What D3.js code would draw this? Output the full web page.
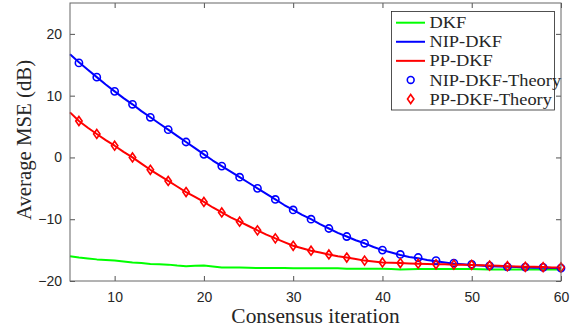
<!DOCTYPE html>
<html><head><meta charset="utf-8">
<script src="https://cdn.jsdelivr.net/npm/d3@7"></script>
<style>body{margin:0;background:#fff}svg{display:block}</style>
</head><body>
<svg id="c" width="585" height="331"></svg>
<script>
// ---- data ----
const iterations = d3.range(5, 61);            // 5..60
const theoryIterations = d3.range(6, 61, 2);   // 6,8,..,60
const dkf = [-16.0,-16.2,-16.35,-16.5,-16.6,-16.7,-16.85,-17.0,-17.1,-17.25,-17.3,-17.35,-17.5,-17.6,-17.55,-17.5,-17.65,-17.8,-17.8,-17.8,-17.85,-17.9,-17.9,-17.9,-17.9,-17.95,-17.95,-17.95,-17.95,-17.95,-17.95,-18.0,-18.0,-18.0,-18.0,-18.0,-18.05,-18.15,-18.1,-18.05,-18.05,-18.05,-18.05,-18.05,-18.05,-18.05,-18.1,-18.15,-18.15,-18.15,-18.15,-18.15,-18.15,-18.15,-18.15,-18.15];
const nipDkf = [16.7,15.4,14.2,13.0,11.8,10.7,9.6,8.6,7.5,6.5,5.5,4.5,3.5,2.5,1.5,0.5,-0.5,-1.4,-2.3,-3.2,-4.1,-5.0,-5.9,-6.8,-7.7,-8.5,-9.3,-10.0,-10.8,-11.5,-12.2,-12.8,-13.4,-13.9,-14.5,-15.0,-15.4,-15.8,-16.1,-16.3,-16.6,-16.8,-17.0,-17.2,-17.3,-17.4,-17.5,-17.6,-17.65,-17.7,-17.75,-17.8,-17.85,-17.85,-17.9,-17.9];
const ppDkf = [7.3,5.9,4.8,3.8,2.8,1.9,0.9,0.0,-1.0,-2.0,-2.9,-3.8,-4.7,-5.6,-6.4,-7.2,-8.1,-8.9,-9.7,-10.4,-11.1,-11.8,-12.5,-13.1,-13.7,-14.3,-14.7,-15.1,-15.4,-15.7,-16.0,-16.2,-16.45,-16.7,-16.85,-17.0,-17.05,-17.1,-17.15,-17.2,-17.25,-17.3,-17.3,-17.35,-17.35,-17.4,-17.45,-17.5,-17.55,-17.6,-17.65,-17.7,-17.7,-17.75,-17.8,-17.8];
const nipTheory = [15.3,13.0,10.7,8.6,6.5,4.5,2.5,0.5,-1.4,-3.2,-5.0,-6.8,-8.5,-10.0,-11.5,-12.8,-13.9,-15.0,-15.7,-16.2,-16.7,-17.1,-17.3,-17.55,-17.7,-17.75,-17.8,-17.9];
const ppTheory = [5.9,3.8,1.9,0.0,-2.0,-3.8,-5.6,-7.2,-8.9,-10.4,-11.8,-13.1,-14.3,-15.1,-15.7,-16.2,-16.7,-17.0,-17.1,-17.2,-17.3,-17.35,-17.4,-17.5,-17.6,-17.7,-17.75,-17.8];
const xTicks = [10,20,30,40,50,60];
const yTicks = [-20,-10,0,10,20];
const legendLabels = ["DKF","NIP-DKF","PP-DKF","NIP-DKF-Theory","PP-DKF-Theory"];

// ---- layout ----
const svg = d3.select("#c");
const L = 70, R = 561, T = 3, B = 281;
const x = d3.scaleLinear().domain([5, 60]).range([L, R]);
const y = d3.scaleLinear().domain([-20, 25]).range([B, T]);
const axisCol = "#262626";
const tickFont = "'Liberation Sans', Arial, sans-serif";
const serif = "'Liberation Serif', 'Times New Roman', serif";

// stretch serif text slightly to mimic Computer Modern widths
function widen(sel, k) {
  sel.each(function(){
    const w = this.getComputedTextLength();
    d3.select(this).attr("textLength", w*k).attr("lengthAdjust","spacingAndGlyphs");
  });
}

// axes with inward ticks
const gx = svg.append("g").attr("transform", `translate(0,${B})`)
  .call(d3.axisBottom(x).tickValues(xTicks).tickSizeInner(-5).tickSizeOuter(0).tickPadding(11));
const gxTop = svg.append("g").attr("transform", `translate(0,${T})`)
  .call(d3.axisTop(x).tickValues(xTicks).tickSizeInner(-5).tickSizeOuter(0).tickFormat(""));
const gy = svg.append("g").attr("transform", `translate(${L},0)`)
  .call(d3.axisLeft(y).tickValues(yTicks).tickSizeInner(-5).tickSizeOuter(0).tickPadding(8));
const gyR = svg.append("g").attr("transform", `translate(${R},0)`)
  .call(d3.axisRight(y).tickValues(yTicks).tickSizeInner(-5).tickSizeOuter(0).tickFormat(""));
[gx,gxTop,gy,gyR].forEach(g=>{
  g.select(".domain").remove();
  g.selectAll("line").attr("stroke", axisCol).attr("stroke-width", 0.8);
  g.selectAll("text").attr("fill", axisCol).style("font-family", tickFont).style("font-size", "14px");
});

// lines
const line = d3.line().x((d,i)=>x(iterations[i])).y(d=>y(d));
const series = [[dkf,"#00ff00"],[nipDkf,"#0000ff"],[ppDkf,"#ff0000"]];
series.forEach(([vals,col])=>{
  svg.append("path").datum(vals).attr("d", line)
    .attr("fill","none").attr("stroke",col).attr("stroke-width",2).attr("stroke-linejoin","round");
});

// theory markers
svg.append("g").selectAll("circle").data(nipTheory).join("circle")
  .attr("cx",(d,i)=>x(theoryIterations[i])).attr("cy",d=>y(d)).attr("r",3.6)
  .attr("fill","none").attr("stroke","#0000ff").attr("stroke-width",1.6);
const diamond = (cx,cy)=>`M${cx},${cy-4.5}L${cx+3.2},${cy}L${cx},${cy+4.5}L${cx-3.2},${cy}Z`;
svg.append("g").selectAll("path").data(ppTheory).join("path")
  .attr("d",(d,i)=>diamond(x(theoryIterations[i]), y(d)))
  .attr("fill","none").attr("stroke","#ff0000").attr("stroke-width",1.6);

// box
svg.append("rect").attr("x",L).attr("y",T).attr("width",R-L).attr("height",B-T)
  .attr("fill","none").attr("stroke","#666").attr("stroke-width",1);

// axis labels
svg.append("text").attr("x",(L+R)/2).attr("y",323).attr("text-anchor","middle")
  .style("font-family",serif).style("font-size","20px").attr("fill",axisCol)
  .text("Consensus iteration").call(widen, 1.07);
svg.append("text").attr("transform",`translate(31,140) rotate(-90)`).attr("text-anchor","middle")
  .style("font-family",serif).style("font-size","20px").attr("fill",axisCol)
  .text("Average MSE (dB)").call(widen, 1.04);

// legend
const lg = svg.append("g");
lg.append("rect").attr("x",391.5).attr("y",11.5).attr("width",163).attr("height",98.5)
  .attr("fill","#fff").attr("stroke",axisCol).attr("stroke-width",0.8);
const rowY = d3.scalePoint().domain(legendLabels).range([22.7, 99]);
const legCols = ["#00ff00","#0000ff","#ff0000","#0000ff","#ff0000"];
legendLabels.forEach((lab,i)=>{
  const yy = rowY(lab);
  if (i<3) {
    lg.append("line").attr("x1",396).attr("x2",425).attr("y1",yy).attr("y2",yy)
      .attr("stroke",legCols[i]).attr("stroke-width",2);
  } else if (i===3) {
    lg.append("circle").attr("cx",410.7).attr("cy",yy).attr("r",3.4)
      .attr("fill","none").attr("stroke",legCols[i]).attr("stroke-width",1.6);
  } else {
    lg.append("path").attr("d",diamond(410.7,yy))
      .attr("fill","none").attr("stroke",legCols[i]).attr("stroke-width",1.6);
  }
  lg.append("text").attr("x",429.5).attr("y",yy).attr("dy","0.33em")
    .style("font-family",serif).style("font-size","17px").attr("fill",axisCol).text(lab)
    .call(widen, 1.08);
});
</script>
</body></html>
